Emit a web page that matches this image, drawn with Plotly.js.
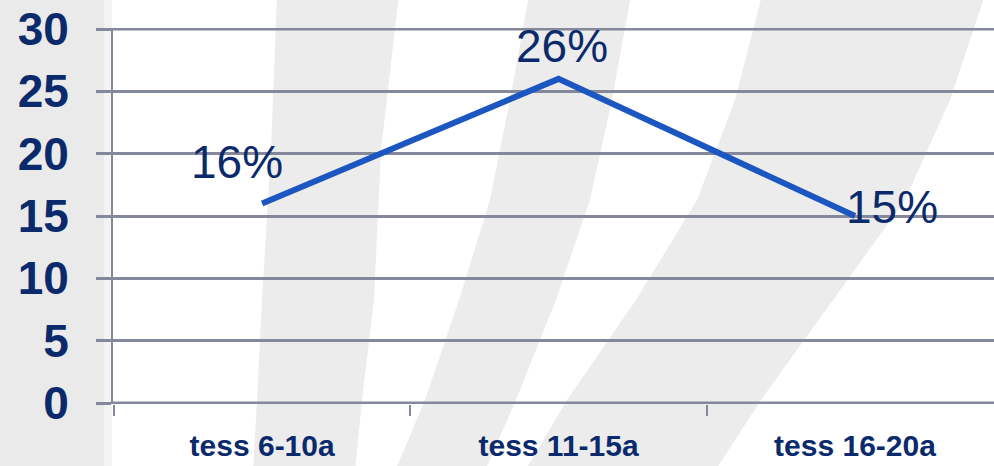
<!DOCTYPE html>
<html>
<head>
<meta charset="utf-8">
<script src="https://cdn.plot.ly/plotly-3.0.1.min.js"></script>
<style>
  html, body { margin: 0; padding: 0; background: #ffffff; }
  #chart { width: 994px; height: 466px; }
</style>
</head>
<body>
<div id="chart"></div>
<script>
// ---- data ----
var categories = ["tess 6-10a", "tess 11-15a", "tess 16-20a"];
var values = [16, 26, 15];
var valueLabels = ["16%", "26%", "15%"];
var yTickValues = [0, 5, 10, 15, 20, 25, 30];

// ---- styling ----
var W = 994, H = 466;
var M = {l: 113, r: 0, t: 28, b: 62};
var PW = W - M.l - M.r, PH = H - M.t - M.b;
var navy = "#0b2a6c";
var gridCol = "#85889b";
var bgGrey = "#ececec";

// decorative watermark stripes (pixel outlines converted to paper coordinates)
function px(x) { return ((x - M.l) / PW).toFixed(4); }
function py(y) { return ((M.t + PH - y) / PH).toFixed(4); }
function pathFrom(pts) {
  return pts.map(function (p, i) { return (i ? "L" : "M") + px(p[0]) + "," + py(p[1]); }).join(" ") + " Z";
}
var stripes = [
  [[277,-5],[271,150],[262,300],[257,400],[253,471],[355,471],[362,400],[374,300],[381,150],[399,-5]],
  [[529,-5],[510,100],[490,200],[459,300],[425,400],[395,471],[485,471],[516,400],[556,300],[590,200],[612,100],[631,-5]],
  [[762,-5],[735,100],[697,200],[636,300],[567,400],[525,471],[715,471],[761,400],[833,300],[905,200],[950,100],[985,-5]]
];
var shapes = [
  {type: "rect", xref: "paper", yref: "paper", x0: px(-5), x1: px(104), y0: py(471), y1: py(-5),
   fillcolor: "#eaeaea", line: {width: 0}, layer: "below"},
  {type: "rect", xref: "paper", yref: "paper", x0: px(104), x1: px(112), y0: py(471), y1: py(-5),
   fillcolor: "#f3f3f3", line: {width: 0}, layer: "below"}
];
stripes.forEach(function (s) {
  shapes.push({type: "path", xref: "paper", yref: "paper", path: pathFrom(s),
    fillcolor: bgGrey, line: {width: 0}, layer: "below"});
});
// make sure the outer grid lines (0 and 30) are drawn
[yTickValues[0], yTickValues[yTickValues.length - 1]].forEach(function (v) {
  shapes.push({type: "line", xref: "paper", yref: "y", x0: 0, x1: 1, y0: v, y1: v,
    line: {color: gridCol, width: 3}, layer: "below"});
});

var labelShifts = [[-25, 42], [3, 33], [37, 9]];
var annotations = categories.map(function (c, i) {
  return {
    x: c, y: values[i], xref: "x", yref: "y", text: valueLabels[i], showarrow: false,
    xanchor: "center", yanchor: "middle",
    xshift: labelShifts[i][0], yshift: labelShifts[i][1],
    font: {family: "Liberation Sans, Arial, sans-serif", size: 46, color: navy}
  };
});

var trace = {
  type: "scatter", mode: "lines",
  x: categories, y: values,
  line: {color: "#1c56c0", width: 6},
  hoverinfo: "skip"
};

var layout = {
  width: W, height: H,
  margin: M,
  paper_bgcolor: "#ffffff",
  plot_bgcolor: "rgba(0,0,0,0)",
  showlegend: false,
  shapes: shapes,
  annotations: annotations,
  xaxis: {
    type: "category",
    range: [-0.503, 2.469],
    tickson: "boundaries",
    ticks: "outside", ticklen: 11, tickwidth: 2, tickcolor: gridCol,
    showgrid: false, zeroline: false, showline: false,
    ticklabelstandoff: 21,
    tickfont: {family: "Liberation Sans, Arial, sans-serif", size: 30, color: navy, weight: "bold"},
    fixedrange: true
  },
  yaxis: {
    range: [-0.08, 30.08],
    tickmode: "array", tickvals: yTickValues, ticktext: yTickValues.map(String),
    ticks: "outside", ticklen: 15, tickwidth: 3, tickcolor: gridCol,
    showgrid: true, gridcolor: gridCol, gridwidth: 3,
    zeroline: false,
    showline: true, linecolor: gridCol, linewidth: 2,
    ticklabelstandoff: 18,
    tickfont: {family: "Liberation Sans, Arial, sans-serif", size: 46, color: navy, weight: "bold"},
    fixedrange: true
  }
};

Plotly.newPlot("chart", [trace], layout, {staticPlot: true, displayModeBar: false});
</script>
</body>
</html>
